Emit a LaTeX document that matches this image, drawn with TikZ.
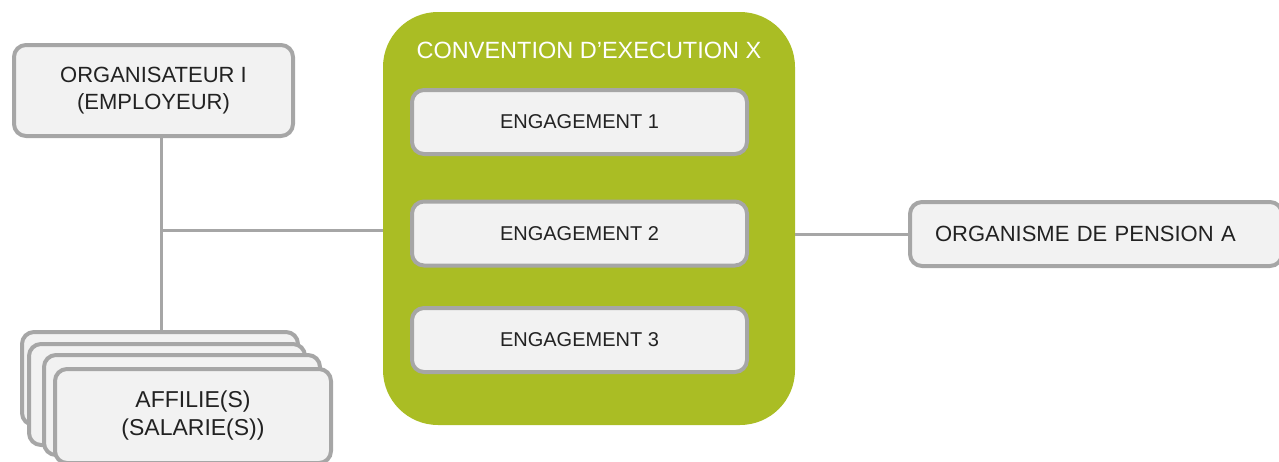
\documentclass[tikz,border=0pt]{standalone}
\usepackage{fontspec}
\setmainfont{Liberation Sans}
\usepackage{xcolor}
\usepackage{tikz}
\usetikzlibrary{positioning}

\definecolor{boxgray}{HTML}{A6A6A6}
\definecolor{boxfill}{HTML}{F2F2F2}
\definecolor{convgreen}{HTML}{AABD24}
\definecolor{boxtext}{HTML}{222222}

\begin{document}
\begin{tikzpicture}[x=1pt,y=-1pt,
    box/.style={draw=boxgray, fill=boxfill, line width=4pt, rounded corners=12pt,
        text=boxtext, align=center, inner sep=0pt},
    engbox/.style={box, minimum width=335pt, minimum height=64pt,
        font=\fontsize{20}{24}\selectfont},
    stackbox/.style={box, minimum width=276pt, minimum height=91pt,
        font=\fontsize{23}{28}\selectfont},
    link/.style={draw=boxgray, line width=3pt}]
                \useasboundingbox (0,0) rectangle (1279,461);

                % employeur
                \node[box, minimum width=279pt, minimum height=91pt,
                    font=\fontsize{22}{27}\selectfont] (org) at (153.5,90.5)
                    {ORGANISATEUR I\\(EMPLOYEUR)};

                % convention with its three engagements
                \node[fill=convgreen, rounded corners=55pt, minimum width=412pt,
                    minimum height=413pt, inner sep=0pt] (conv) at (589,218.5) {};
                \node[text=white, font=\fontsize{23.5}{28}\selectfont, inner sep=0pt]
                    (convtitle) at (589,50) {CONVENTION D'EXECUTION X};
                \node[engbox] (eng1) at (579.5,122) {ENGAGEMENT 1};
                \node[engbox] (eng2) at (579.5,233.5) {ENGAGEMENT 2};
                \node[engbox] (eng3) at (579.5,340) {ENGAGEMENT 3};

                % organisme de pension
                \node[box, text width=322pt, inner xsep=25pt, minimum height=64pt,
                    align=left, font=\fontsize{22}{27}\selectfont] (pens) at (1096,234)
                    {ORGANISME DE PENSION A};

                % affilies, stacked
                \node[stackbox, minimum height=93pt] (aff1) at (160,378.5) {};
                \node[stackbox, minimum height=101pt] (aff2) at (167,394.5) {};
                \node[stackbox, minimum height=100pt] (aff3) at (182,405) {};
                \node[stackbox, minimum height=94pt] (aff4) at (193,416) {AFFILIE(S)\\(SALARIE(S))};

                % connectors
                \coordinate (jn) at (161,230);
                \draw[link] (jn |- org.south) -- (jn |- aff1.north);
                \draw[link] (jn) -- (conv.west |- jn);
                \draw[link] (conv.east |- pens.west) -- (pens.west);

\end{tikzpicture}
\end{document}
